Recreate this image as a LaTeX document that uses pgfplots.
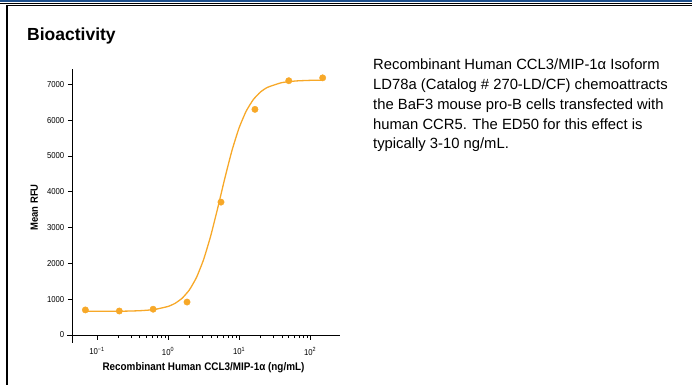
\documentclass[border=0pt]{standalone}
\usepackage{fontspec}
\setmainfont{Liberation Sans}
\newfontfamily\condfont[FakeStretch=0.9]{Liberation Sans}
\usepackage{pgfplots}
\pgfplotsset{compat=1.18}
\definecolor{curve}{RGB}{247,168,40}
\definecolor{band}{RGB}{30,80,140}
\begin{document}
\begin{tikzpicture}[x=1pt,y=1pt]
\useasboundingbox (0,0) rectangle (692,385);
\fill[band] (0,382.6) rectangle (692,385);
\draw[black,line width=1.2pt] (0,381.7) -- (692,381.7);
\draw[black,line width=1.3pt] (6,379.3) -- (692,379.3);
\draw[black,line width=2pt] (7,379.9) -- (7,0);
\node[anchor=base west,inner sep=0pt,font=\bfseries\fontsize{17.5}{20}\selectfont] at (27,344.3) {Bioactivity};
\begin{scope}[every node/.style={anchor=base west,inner sep=0pt,font=\fontsize{14.8}{19}\selectfont}]
\node at (373,315) {Recombinant Human CCL3/MIP-1α Isoform};
\node at (373,295.3) {LD78a (Catalog \# 270-LD/CF) chemoattracts};
\node at (373,275.6) {the BaF3 mouse pro-B cells transfected with};
\node at (373,255.9) {human CCR5. The ED50 for this effect is};
\node at (373,236.2) {typically 3-10 ng/mL.};
\end{scope}
\begin{axis}[
  at={(72.3pt,50pt)}, anchor=south west, scale only axis,
  width=267.7pt, height=266pt,
  xmode=log, xmin=0.0449, xmax=263, ymin=0, ymax=7427,
  axis x line=bottom, axis y line=left,
  axis line style={-, line width=0.8pt},
  tick align=outside, major tick length=4.5pt, minor tick length=3pt,
  every tick/.style={line width=0.6pt, black},
  ytick={0,1000,2000,3000,4000,5000,6000,7000},
  xtick={0.1,1,10,100},
  xticklabels={10\textsuperscript{−1},10\textsuperscript{0},10\textsuperscript{1},10\textsuperscript{2}},
  /pgf/number format/assume math mode=true,
  /pgf/number format/1000 sep={},
  scaled y ticks=false,
  tick label style={font=\condfont\fontsize{8.6}{10}\selectfont},
  xticklabel style={yshift=-4pt},
  clip=false,
  xlabel={Recombinant Human CCL3/MIP-1α (ng/mL)},
  ylabel={Mean RFU},
  every axis x label/.style={at={(rel axis cs:0.49,0)}, anchor=center, yshift=-33pt, font=\condfont\bfseries\fontsize{11}{13}\selectfont},
  every axis y label/.style={at={(rel axis cs:0,0.48)}, rotate=90, anchor=center, yshift=38pt, font=\condfont\bfseries\fontsize{10.5}{12}\selectfont},
]
\addplot[curve, line width=1.3pt, smooth, tension=0.3] coordinates {
(0.0692,660) (0.1,662) (0.158,663) (0.251,666) (0.398,678) (0.631,709) (1,797)
(1.259,886) (1.585,1030) (1.995,1258) (2.512,1606) (3.162,2104) (3.981,2764)
(5.012,3553) (6.310,4384) (7.943,5154) (10,5785) (12.59,6252) (15.85,6573)
(19.95,6783) (25.12,6915) (39.81,7046) (63.10,7093) (100,7110) (151,7116)
};
\addplot[only marks, mark=*, mark size=3.2pt, curve, mark options={draw=curve, fill=curve}] coordinates {
(0.0686,700) (0.206,670) (0.617,720) (1.85,920) (5.56,3710) (16.7,6300) (50,7100) (150,7180)
};
\coordinate (O) at (rel axis cs:0,0);
\end{axis}
\draw[line width=0.8pt] (O) -- ++(-5.6,0);
\draw[line width=0.8pt] (O) -- ++(0,-8);
\end{tikzpicture}
\end{document}
